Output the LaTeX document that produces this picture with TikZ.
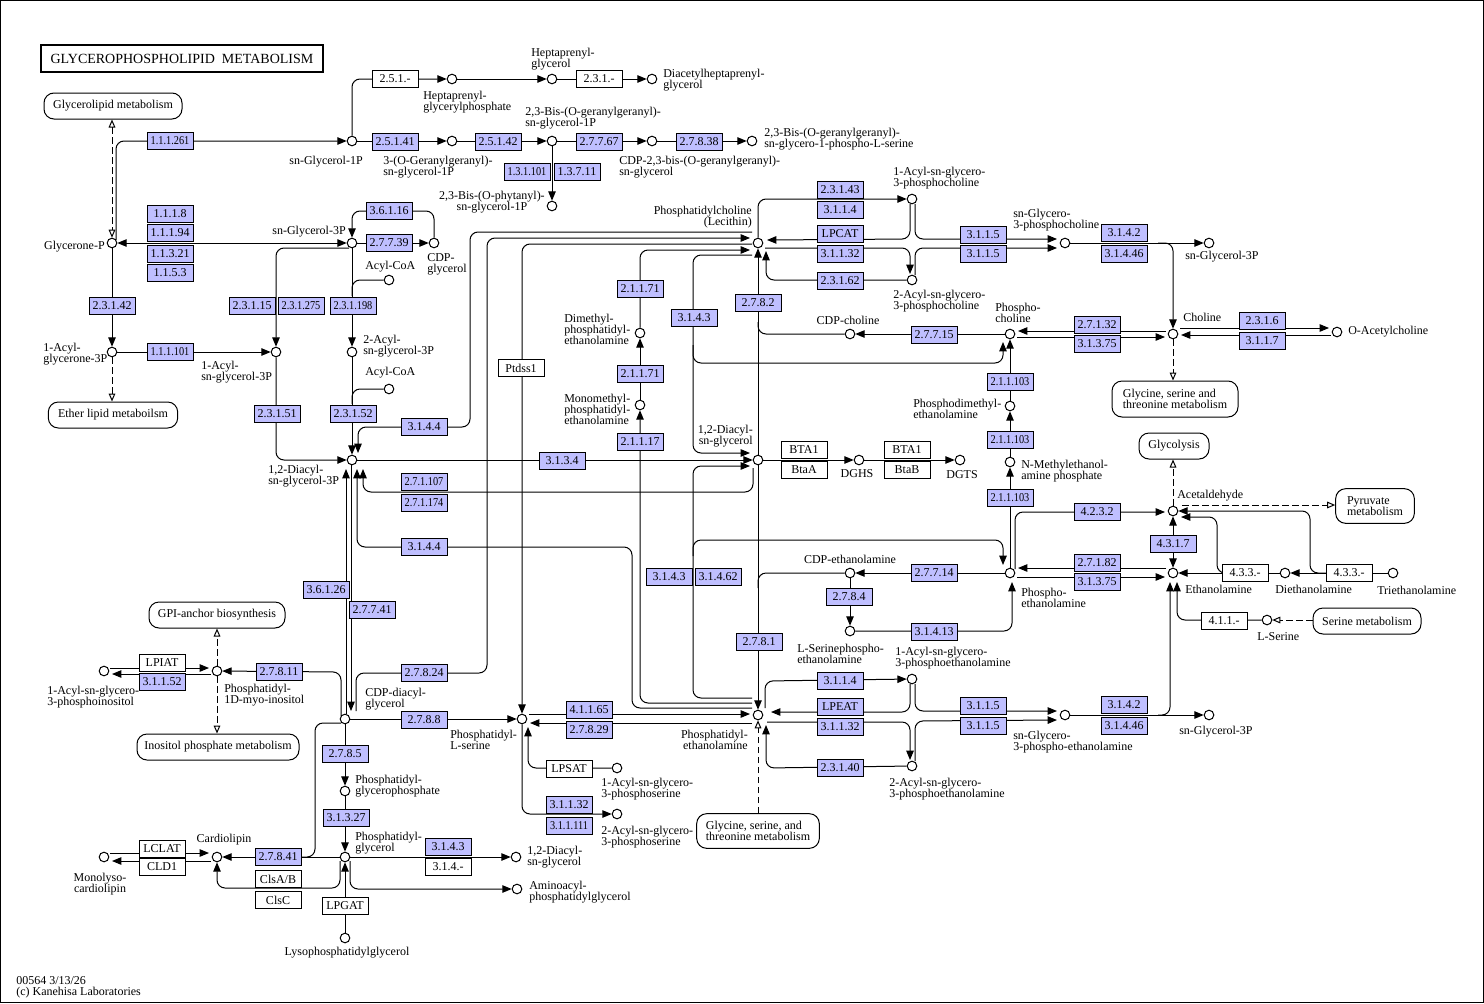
\documentclass[tikz,border=0pt]{standalone}
\usepackage{fontspec}
\setmainfont{Liberation Serif}
\usetikzlibrary{arrows.meta,calc,backgrounds}
\definecolor{enzblue}{RGB}{191,191,255}
\begin{document}
\begin{tikzpicture}[x=0.75pt,y=-0.75pt,
  cpd/.style={circle,draw,fill=white,line width=0.75pt,minimum size=7.2pt,inner sep=0pt},
  enz/.style={draw,fill=enzblue,line width=0.75pt,minimum width=34.5pt,minimum height=12.4pt,inner sep=0pt,font=\fontsize{9}{9}\selectfont},
  enzs/.style={enz},
  enzw/.style={enz,fill=white},
  lbl/.style={inner sep=0pt,font=\fontsize{9}{8.25}\selectfont,align=left},
  mapn/.style={draw,rounded corners=7.5pt,line width=0.75pt,fill=white,inner sep=0pt,font=\fontsize{9}{8.25}\selectfont,align=left},
  ln/.style={line width=0.75pt,rounded corners=6pt},
  ar/.style={ln,-{Triangle[length=7pt,width=5.6pt]}},
  dar/.style={ln,{Triangle[length=7pt,width=5.6pt]}-{Triangle[length=7pt,width=5.6pt]}},
  dsh/.style={line width=0.75pt,dash pattern=on 5pt off 2.5pt,-{Triangle[open,length=6pt,width=5pt]}},
  dsh2/.style={line width=0.75pt,dash pattern=on 5pt off 2.5pt,{Triangle[open,length=6pt,width=5pt]}-{Triangle[open,length=6pt,width=5pt]}}
]
\useasboundingbox (0,0) rectangle (1484,1003);
\draw[line width=1.1pt] (0.75,0.75) rectangle (1483.25,1002.25);

% title
\node[draw,line width=1.5pt,minimum width=211.5pt,minimum height=20pt,inner sep=0pt,font=\fontsize{10.5}{12}\selectfont] (title) at (182,58.5) {GLYCEROPHOSPHOLIPID\ \ METABOLISM};
\node[lbl,anchor=west] (foot) at (16,987) {00564 3/13/26\\(c) Kanehisa Laboratories};

% map boxes
\node[mapn,minimum width=103.5pt,minimum height=19.5pt] (GlMap) at (113,106) {Glycerolipid metabolism};
\node[mapn,minimum width=97pt,minimum height=19.5pt] (EtherMap) at (113,415) {Ether lipid metaboilsm};
\node[mapn,minimum width=102pt,minimum height=19.5pt] (GPImap) at (217,615) {GPI-anchor biosynthesis};
\node[mapn,minimum width=121.5pt,minimum height=19.5pt] (InoMap) at (218,747) {Inositol phosphate metabolism};
\node[mapn,minimum width=94.5pt,minimum height=27pt] (GlyMapA) at (1175,399) {Glycine, serine and\\threonine metabolism};
\node[mapn,minimum width=52.5pt,minimum height=19.5pt] (GlycMap) at (1174,446) {Glycolysis};
\node[mapn,minimum width=59pt,minimum height=26pt] (PyrMap) at (1375,506) {Pyruvate\\metabolism};
\node[mapn,minimum width=81pt,minimum height=19.5pt] (SerMap) at (1367,621) {Serine metabolism};
\node[mapn,minimum width=92pt,minimum height=26pt] (GlyMapB) at (758,831) {Glycine, serine, and\\threonine metabolism};

% compounds
\node[cpd] (snG1P) at (352,141) {};
\node[cpd] (hepGP) at (452,79) {};
\node[cpd] (hepG) at (552,79) {};
\node[cpd] (diacHG) at (652,79) {};
\node[cpd] (GG1P) at (452,141) {};
\node[cpd] (BisGG1P) at (552,141) {};
\node[cpd] (CDPBisGG) at (652,141) {};
\node[cpd] (BisGGSer) at (752,141) {};
\node[cpd] (phytanyl) at (552,206) {};
\node[cpd] (glyceroneP) at (112,243) {};
\node[cpd] (snG3P) at (352,243) {};
\node[cpd] (CDPglyc) at (434,243) {};
\node[cpd] (acylCoAa) at (389,280) {};
\node[cpd] (acylGnP) at (112,352) {};
\node[cpd] (acylG3P) at (276,352) {};
\node[cpd] (acyl2G3P) at (352,352) {};
\node[cpd] (acylCoAb) at (389,389) {};
\node[cpd] (DAG3P) at (352,460) {};
\node[cpd] (PC) at (758,243) {};
\node[cpd] (LPC1) at (912,199) {};
\node[cpd] (LPC2) at (912,280) {};
\node[cpd] (GPC) at (1065,243) {};
\node[cpd] (snG3Pb) at (1209,243) {};
\node[cpd] (CDPcho) at (850,334) {};
\node[cpd] (Pcho) at (1010,334) {};
\node[cpd] (cho) at (1173,334) {};
\node[cpd] (OAcCho) at (1337,332) {};
\node[cpd] (DMPE) at (640,333) {};
\node[cpd] (MMPE) at (640,405) {};
\node[cpd] (DAG) at (758,460) {};
\node[cpd] (DGHS) at (859,460) {};
\node[cpd] (DGTS) at (960,460) {};
\node[cpd] (PDME) at (1010,406) {};
\node[cpd] (NMEP) at (1010,462) {};
\node[cpd] (PEtn) at (1010,573) {};
\node[cpd] (acetald) at (1173,511) {};
\node[cpd] (etn) at (1173,573) {};
\node[cpd] (dietn) at (1285,573) {};
\node[cpd] (trietn) at (1393,573) {};
\node[cpd] (LSer) at (1267,620) {};
\node[cpd] (CDPEtn) at (850,573) {};
\node[cpd] (LSPE) at (850,631) {};
\node[cpd] (PE) at (758,715) {};
\node[cpd] (LPE1) at (912,679) {};
\node[cpd] (LPE2) at (912,766) {};
\node[cpd] (GPE) at (1065,715) {};
\node[cpd] (snG3Pc) at (1209,715) {};
\node[cpd] (PS) at (522,719) {};
\node[cpd] (LPS1) at (617,768) {};
\node[cpd] (LPS2) at (617,814) {};
\node[cpd] (CDPDAG) at (345,719) {};
\node[cpd] (PI) at (217,671) {};
\node[cpd] (LPI) at (104,671) {};
\node[cpd] (PGP) at (345,791) {};
\node[cpd] (PG) at (345,857) {};
\node[cpd] (CL) at (217,857) {};
\node[cpd] (MLCL) at (104,857) {};
\node[cpd] (DAGb) at (516,857) {};
\node[cpd] (aaPG) at (517,889) {};
\node[cpd] (LPG) at (345,938) {};

% enzymes (blue)
\foreach \n/\x/\y/\t in {
 a1/395/142/{2.5.1.41}, a2/498/142/{2.5.1.42}, a3/599/142/{2.7.7.67}, a4/699/142/{2.7.8.38},
 a5/577/172/{1.3.7.11}, a6/170/214/{1.1.1.8}, a7/170/233/{1.1.1.94}, a8/170/254/{1.1.3.21},
 a9/170/273/{1.1.5.3}, a10/389/211/{3.6.1.16}, a11/389/243/{2.7.7.39}, a12/112/306/{2.3.1.42},
 a13/252/306/{2.3.1.15}, a15/277/414/{2.3.1.51}, a16/353/414/{2.3.1.52},
 a17/424/427/{3.1.4.4}, a18/424/547/{3.1.4.4}, a19/326/590/{3.6.1.26}, a20/372/610/{2.7.7.41},
 a21/562/461/{3.1.3.4}, a22/640/289/{2.1.1.71}, a23/694/318/{3.1.4.3}, a24/758/303/{2.7.8.2},
 a25/640/374/{2.1.1.71}, a26/640/442/{2.1.1.17}, a27/840/190/{2.3.1.43}, a28/840/210/{3.1.1.4},
 a29/840/234/{LPCAT}, a30/840/254/{3.1.1.32}, a31/840/281/{2.3.1.62}, a32/983/235/{3.1.1.5},
 a33/983/254/{3.1.1.5}, a34/1124/233/{3.1.4.2}, a35/1124/254/{3.1.4.46}, a36/934/335/{2.7.7.15},
 a37/1097/325/{2.7.1.32}, a38/1097/344/{3.1.3.75}, a39/1262/321/{2.3.1.6}, a40/1262/341/{3.1.1.7},
 a44/1097/512/{4.2.3.2},
 a45/1173/544/{4.3.1.7}, a46/1097/563/{2.7.1.82}, a47/1097/582/{3.1.3.75}, a48/934/573/{2.7.7.14},
 a49/849/597/{2.7.8.4}, a50/934/632/{3.1.4.13}, a51/669/577/{3.1.4.3}, a52/718/577/{3.1.4.62},
 a53/759/642/{2.7.8.1}, a54/424/673/{2.7.8.24}, a55/279/672/{2.7.8.11}, a56/162/682/{3.1.1.52},
 a57/424/720/{2.7.8.8}, a58/589/710/{4.1.1.65}, a59/589/730/{2.7.8.29}, a60/569/805/{3.1.1.32},
 a62/840/681/{3.1.1.4}, a63/840/707/{LPEAT}, a64/840/727/{3.1.1.32},
 a65/840/768/{2.3.1.40}, a66/983/706/{3.1.1.5}, a67/983/726/{3.1.1.5}, a68/1124/705/{3.1.4.2},
 a69/1124/726/{3.1.4.46}, a70/345/754/{2.7.8.5}, a71/346/818/{3.1.3.27}, a72/448/847/{3.1.4.3},
 a73/278/857/{2.7.8.41}}
 {\node[enz] (\n) at (\x,\y) {\t};}
\foreach \n/\x/\y/\t in {
 b1/170/141/{1.1.1.261}, b2/527/172/{1.3.1.101}, b3/301/306/{2.3.1.275}, b4/353/306/{2.3.1.198},
 b5/170/352/{1.1.1.101}, b6/569/826/{3.1.1.111}, b7/424/482/{2.7.1.107}, b8/424/503/{2.7.1.174},
 b9/1010/382/{2.1.1.103}, b10/1010/440/{2.1.1.103}, b11/1010/498/{2.1.1.103}}
 {\node[enzs] (\n) at (\x,\y) {\scalebox{0.86}[1]{\t}};}
% enzymes (white)
\foreach \n/\x/\y/\t in {
 w1/395/79/{2.5.1.-}, w2/599/79/{2.3.1.-}, w3/521/368/{Ptdss1}, w4/804/450/{BTA1},
 w5/804/470/{BtaA}, w6/907/450/{BTA1}, w7/907/470/{BtaB}, w8/1245/573/{4.3.3.-},
 w9/1349/573/{4.3.3.-}, w10/1224/621/{4.1.1.-}, w11/162/663/{LPIAT}, w12/569/769/{LPSAT},
 w13/448/867/{3.1.4.-}, w14/278/879/{ClsA/B}, w15/278/900/{ClsC}, w16/162/849/{LCLAT},
 w17/162/867/{CLD1}, w18/345/906/{LPGAT}}
 {\node[enzw] (\n) at (\x,\y) {\t};}

% labels
\node[lbl,anchor=west] (l1) at (531,59) {Heptaprenyl-\\glycerol};
\node[lbl,anchor=west] (l2) at (423,102) {Heptaprenyl-\\glycerylphosphate};
\node[lbl,anchor=west] (l3) at (663,80) {Diacetylheptaprenyl-\\glycerol};
\node[lbl,anchor=east] (l4) at (363,162) {sn-Glycerol-1P};
\node[lbl,anchor=west] (l5) at (383,167) {3-(O-Geranylgeranyl)-\\sn-glycerol-1P};
\node[lbl,anchor=west] (l6) at (525,118) {2,3-Bis-(O-geranylgeranyl)-\\sn-glycerol-1P};
\node[lbl,anchor=west] (l7) at (764,139) {2,3-Bis-(O-geranylgeranyl)-\\sn-glycero-1-phospho-L-serine};
\node[lbl,anchor=west] (l8) at (619,167) {CDP-2,3-bis-(O-geranylgeranyl)-\\sn-glycerol};
\node[lbl,anchor=east,align=center] (l9) at (545,202) {2,3-Bis-(O-phytanyl)-\\sn-glycerol-1P};
\node[lbl,anchor=east] (l10) at (105,247) {Glycerone-P};
\node[lbl,anchor=east] (l11) at (346,232) {sn-Glycerol-3P};
\node[lbl,anchor=west] (l12) at (427,264) {CDP-\\glycerol};
\node[lbl,anchor=west] (l13) at (365,267) {Acyl-CoA};
\node[lbl,anchor=west] (l14) at (43,354) {1-Acyl-\\glycerone-3P};
\node[lbl,anchor=west] (l15) at (201,372) {1-Acyl-\\sn-glycerol-3P};
\node[lbl,anchor=west] (l16) at (363,346) {2-Acyl-\\sn-glycerol-3P};
\node[lbl,anchor=west] (l17) at (365,373) {Acyl-CoA};
\node[lbl,anchor=west] (l18) at (268,476) {1,2-Diacyl-\\sn-glycerol-3P};
\node[lbl,anchor=east,align=right] (l19) at (752,217) {Phosphatidylcholine\\(Lecithin)};
\node[lbl,anchor=west] (l20) at (893,178) {1-Acyl-sn-glycero-\\3-phosphocholine};
\node[lbl,anchor=west] (l21) at (893,301) {2-Acyl-sn-glycero-\\3-phosphocholine};
\node[lbl,anchor=west] (l22) at (1013,220) {sn-Glycero-\\3-phosphocholine};
\node[lbl,anchor=west] (l23) at (1185,257) {sn-Glycerol-3P};
\node[lbl,anchor=west] (l24) at (995,313) {Phospho-\\choline};
\node[lbl,anchor=west] (l25) at (1183,317) {Choline};
\node[lbl,anchor=west] (l26) at (1348,332) {O-Acetylcholine};
\node[lbl] (l27) at (848,320) {CDP-choline};
\node[lbl,anchor=west] (l28) at (564,329) {Dimethyl-\\phosphatidyl-\\ethanolamine};
\node[lbl,anchor=west] (l29) at (564,409) {Monomethyl-\\phosphatidyl-\\ethanolamine};
\node[lbl,anchor=east,align=right] (l30) at (753,436) {1,2-Diacyl-\\sn-glycerol};
\node[lbl] (l31) at (857,474) {DGHS};
\node[lbl] (l32) at (962,475) {DGTS};
\node[lbl,anchor=west] (l33) at (913,409) {Phosphodimethyl-\\ethanolamine};
\node[lbl,anchor=west] (l34) at (1021,471) {N-Methylethanol-\\amine phosphate};
\node[lbl,anchor=west] (l35) at (1177,496) {Acetaldehyde};
\node[lbl,anchor=west] (l36) at (1185,589) {Ethanolamine};
\node[lbl,anchor=west] (l37) at (1275,589) {Diethanolamine};
\node[lbl,anchor=west] (l38) at (1377,590) {Triethanolamine};
\node[lbl,anchor=west] (l39) at (1257,637) {L-Serine};
\node[lbl,anchor=west] (l40) at (1021,598) {Phospho-\\ethanolamine};
\node[lbl] (l41) at (850,559) {CDP-ethanolamine};
\node[lbl,anchor=west] (l42) at (797,654) {L-Serinephospho-\\ethanolamine};
\node[lbl,anchor=west] (l43) at (895,658) {1-Acyl-sn-glycero-\\3-phosphoethanolamine};
\node[lbl,anchor=west] (l44) at (889,789) {2-Acyl-sn-glycero-\\3-phosphoethanolamine};
\node[lbl,anchor=west] (l45) at (1013,742) {sn-Glycero-\\3-phospho-ethanolamine};
\node[lbl,anchor=west] (l46) at (1179,732) {sn-Glycerol-3P};
\node[lbl,anchor=east,align=right] (l47) at (748,740) {Phosphatidyl-\\ethanolamine};
\node[lbl,anchor=west] (l48) at (450,740) {Phosphatidyl-\\L-serine};
\node[lbl,anchor=west] (l49) at (601,789) {1-Acyl-sn-glycero-\\3-phosphoserine};
\node[lbl,anchor=west] (l50) at (601,837) {2-Acyl-sn-glycero-\\3-phosphoserine};
\node[lbl,anchor=west] (l51) at (365,699) {CDP-diacyl-\\glycerol};
\node[lbl,anchor=west] (l52) at (224,695) {Phosphatidyl-\\1D-myo-inositol};
\node[lbl,anchor=west] (l53) at (47,697) {1-Acyl-sn-glycero-\\3-phosphoinositol};
\node[lbl,anchor=west] (l54) at (355,786) {Phosphatidyl-\\glycerophosphate};
\node[lbl,anchor=west] (l55) at (355,843) {Phosphatidyl-\\glycerol};
\node[lbl] (l56) at (224,840) {Cardiolipin};
\node[lbl,align=center] (l57) at (100,884) {Monolyso-\\cardiolipin};
\node[lbl] (l58) at (347,953) {Lysophosphatidylglycerol};
\node[lbl,anchor=west] (l59) at (527,857) {1,2-Diacyl-\\sn-glycerol};
\node[lbl,anchor=west] (l60) at (529,892) {Aminoacyl-\\phosphatidylglycerol};

\begin{scope}[on background layer]
% top
\draw[ar] (snG1P) -- (352,79) -- (hepGP);
\draw[ar] (hepGP) -- (hepG);
\draw[ar] (hepG) -- (diacHG);
\draw[ar] (snG1P) -- (GG1P);
\draw[ar] (GG1P) -- (BisGG1P);
\draw[ar] (BisGG1P) -- (CDPBisGG);
\draw[ar] (CDPBisGG) -- (BisGGSer);
\draw[ar] (BisGG1P) -- (phytanyl);
\draw[ar] ($(glyceroneP)+(4,-3)$) -- (116,141) -- (snG1P);
\draw[dar] (glyceroneP) -- (snG3P);
\draw[ar] (snG3P) -- (CDPglyc);
\draw[ar] (CDPglyc) -- (434,211) -- (352,211) -- (snG3P);
\draw[ar] ($(snG3P)+(-3,5)$) -- (276,248) -- (acylG3P);
\draw[ar] (snG3P) -- (acyl2G3P);
\draw[ln] (acylCoAa) -- (352,280) -- (352,296);
\draw[ar] (glyceroneP) -- (acylGnP);
\draw[ar] (acylGnP) -- (acylG3P);
\draw[ar] (acylG3P) -- (276,460) -- (DAG3P);
\draw[ar] (acyl2G3P) -- (DAG3P);
\draw[ln] (acylCoAb) -- (352,389) -- (352,404);
\draw[dsh2] (glyceroneP |- GlMap.south) -- (glyceroneP);
\draw[dsh] (acylGnP) -- (acylGnP |- EtherMap.north);
% PC block
\draw[ar] ($(PC)+(-6,-11)$) -- (470,232) -- (470,427) -- (358,427) -- ($(DAG3P)+(6,-7)$);
\draw[ar] ($(CDPDAG)+(11,-8)$) -- (356,673) -- (487,673) -- (487,238) -- ($(PC)+(-8,-5)$);
\draw[ar] ($(PC)+(-6,1)$) -- (522,244) -- (PS);
\draw[ar] (DMPE) -- (640,250) -- ($(PC)+(-8,7)$);
\draw[ar] ($(PC)+(-6,12)$) -- (693,255) -- (693,453) -- ($(DAG)+(-8,-7)$);
\draw[ar] (693,345) -- (693,363) -- (1003,363) -- ($(Pcho)+(-7,8)$);
\draw[ar] (DAG) -- (PC);
\draw[ln] (CDPcho) -- (758,334) -- (758,322);
\draw[ar] (LPC2) -- (766,280) -- ($(PC)+(8,8)$);
\draw[ar] (PC) -- (758,199) -- (LPC1);
\draw[ar] ($(LPC1)+(-2,5)$) -- (910,239) -- ($(PC)+(9,-3)$);
\draw[ar] ($(LPC1)+(3,5)$) -- (915,239) -- ($(GPC)+(-8,-4)$);
\draw[ar] ($(PC)+(7,5)$) -- (910,248) -- ($(LPC2)+(-2,-6)$);
\draw[ar] ($(LPC2)+(3,-5)$) -- (915,248) -- ($(GPC)+(-8,5)$);
\draw[ar] (GPC) -- (snG3Pb);
\draw[ar] (1158,243) -- (1173,243) -- (cho);
\draw[ar] (Pcho) -- (CDPcho);
\draw[ar] ($(cho)+(-7,-3)$) -- ($(Pcho)+(8,-3)$);
\draw[ar] ($(Pcho)+(7,3)$) -- ($(cho)+(-8,3)$);
\draw[ar] ($(cho)+(7,-6)$) -- ($(OAcCho)+(-8,-4)$);
\draw[ar] ($(OAcCho)+(-6,3)$) -- ($(cho)+(8,1)$);
\draw[dsh] (cho) -- (cho |- GlyMapA.north);
\draw[ar] (PDME) -- (Pcho);
\draw[ar] (NMEP) -- (PDME);
\draw[ar] (PEtn) -- (NMEP);
% ethanolamine block
\draw[ar] ($(PEtn)+(5,-4)$) -- (1015,512) -- ($(acetald)+(-8,1)$);
\draw[ar] ($(etn)+(-7,-5)$) -- ($(PEtn)+(8,-5)$);
\draw[ar] ($(PEtn)+(7,4)$) -- ($(etn)+(-8,4)$);
\draw[dar] (acetald) -- (etn);
\draw[ar] (dietn) -- (etn);
\draw[ar] (1226,573) -- (1217,573) -- (1217,517) -- ($(acetald)+(8,6)$);
\draw[ar] (trietn) -- (dietn);
\draw[ar] (1330,573) -- (1310,573) -- (1310,511) -- (acetald);
\draw[dsh] ($(acetald)+(9,-6)$) -- ($(PyrMap.west)+(0,-1)$);
\draw[dsh] (acetald) -- (acetald |- GlycMap.south);
\draw[ar] (LSer) -- (1177,620) -- ($(etn)+(4,9)$);
\draw[dsh] (SerMap.west |- LSer) -- (LSer);
\draw[ar] (1158,715) -- (1170,715) -- ($(etn)+(-3,9)$);
\draw[ar] (GPE) -- (snG3Pc);
\draw[ar] (PEtn) -- (CDPEtn);
\draw[ar] (CDPEtn) -- (LSPE);
\draw[ar] (LSPE) -- (1012,631) -- ($(PEtn)+(2,9)$);
\draw[ln] (CDPEtn) -- (758,573) -- (758,588);
% DAG / PE block
\draw[ar] (DAG) -- (PE);
\draw[ar] ($(PE)+(-6,-17)$) -- (693,698) -- (693,466) -- ($(DAG)+(-8,6)$);
\draw[ar] (693,556) -- (693,540) -- (1003,540) -- ($(PEtn)+(-7,-8)$);
\draw[ar] ($(PE)+(-6,-12)$) -- (640,703) -- (MMPE);
\draw[ar] (MMPE) -- (DMPE);
\draw[ar] ($(PE)+(-6,-7)$) -- (632,708) -- (632,547) -- (357,547) -- ($(DAG3P)+(5,9)$);
\draw[ar] ($(DAG)+(-5,8)$) -- (753,492) -- (363,492) -- ($(DAG3P)+(11,9)$);
\draw[ar] (DAG3P) -- (DAG);
\draw[ar] (DAG) -- (DGHS);
\draw[ar] (DGHS) -- (DGTS);
\draw[ar] ($(DAG3P)+(-1,5)$) -- ($(CDPDAG)+(6,-8)$);
\draw[ar] ($(CDPDAG)+(1,-5)$) -- ($(DAG3P)+(-6,9)$);
\draw[ar] (CDPDAG) -- (PS);
\draw[ar] ($(CDPDAG)+(-4,-3)$) -- (341,672) -- (PI);
\draw[ar] (CDPDAG) -- (PGP);
\draw[ar] (PGP) -- (PG);
\draw[ar] (LPG) -- (PG);
\draw[ar] (PG) -- (CL);
\draw[ln] ($(CDPDAG)+(-4,4)$) -- (315,723) -- (315,857) -- (300,857);
\draw[ar] ($(PG)+(-5,4)$) -- (340,888) -- (217,888) -- (CL);
\draw[ar] (PG) -- (DAGb);
\draw[ar] ($(PG)+(5,4)$) -- (350,889) -- (aaPG);
\draw[ar] ($(MLCL)+(6,-4)$) -- ($(CL)+(-8,-4)$);
\draw[ar] ($(CL)+(-6,4)$) -- ($(MLCL)+(8,4)$);
\draw[ar] ($(LPI)+(6,-3)$) -- ($(PI)+(-8,-3)$);
\draw[ar] ($(PI)+(-6,3)$) -- ($(LPI)+(8,3)$);
\draw[dsh] (PI) -- (PI |- GPImap.south);
\draw[dsh] (PI) -- (PI |- InoMap.north);
\draw[ar] ($(PS)+(7,-5)$) -- ($(PE)+(-8,-1)$);
\draw[ar] ($(PE)+(-6,8)$) -- ($(PS)+(8,4)$);
\draw[ar] (LPS1) -- (528,768) -- ($(PS)+(6,8)$);
\draw[ar] (PS) -- (522,814) -- (LPS2);
\draw[ar] ($(PE)+(7,-7)$) -- (765,681) -- (LPE1);
\draw[ar] ($(LPE1)+(-2,5)$) -- (910,712) -- ($(PE)+(13,-3)$);
\draw[ar] ($(LPE1)+(3,5)$) -- (915,711) -- ($(GPE)+(-8,-4)$);
\draw[ar] ($(PE)+(9,7)$) -- (910,722) -- ($(LPE2)+(-2,-6)$);
\draw[ar] ($(LPE2)+(3,-5)$) -- (915,721) -- ($(GPE)+(-8,5)$);
\draw[ar] (LPE2) -- (766,768) -- ($(PE)+(8,10)$);
\draw[dsh] (PE |- GlyMapB.north) -- (PE);
\end{scope}
\end{tikzpicture}
\end{document}
